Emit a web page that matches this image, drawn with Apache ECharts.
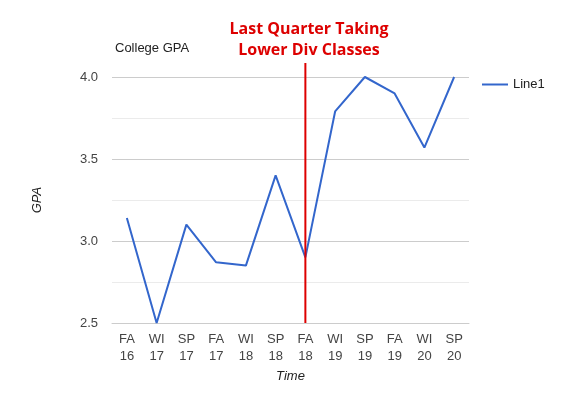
<!DOCTYPE html>
<html>
<head>
<meta charset="utf-8">
<script src="https://cdn.jsdelivr.net/npm/echarts@6/dist/echarts.min.js"></script>
<style>
  html, body { margin: 0; padding: 0; background: #fff; }
  #chart { width: 580px; height: 400px; }
</style>
</head>
<body>
<div id="chart"></div>
<script>
// quarters along the x axis
const quarters = ['FA\n16', 'WI\n17', 'SP\n17', 'FA\n17', 'WI\n18', 'SP\n18',
  'FA\n18', 'WI\n19', 'SP\n19', 'FA\n19', 'WI\n20', 'SP\n20']
// GPA per quarter
const gpa = [3.14, 2.5, 3.10, 2.87, 2.85, 3.40, 2.90, 3.79, 4.0, 3.90, 3.57, 4.0]
// red marker: quarter, from GPA, to GPA (goes a bit above the top of the axis)
const markerLine = [['FA\n18', 2.5, 4.085]]

var myChart = echarts.init(document.getElementById('chart'))
var option = {
  animation: false,
  title: [
    {
      text: 'College GPA',
      left: 110, top: 37,
      textStyle: { fontSize: 13, fontWeight: 'normal', color: '#222', fontFamily: 'Arial, Liberation Sans' }
    },
    {
      text: 'Last Quarter Taking\nLower Div Classes',
      left: 304, top: 14,
      textAlign: 'center',
      textStyle: { fontSize: 16, fontWeight: 'bold', color: '#dd0000', lineHeight: 21, fontFamily: 'Open Sans' }
    }
  ],
  legend: {
    data: ['Line1'],
    orient: 'vertical',
    left: 477, top: 73,
    itemWidth: 26, itemHeight: 2, itemGap: 6,
    icon: 'rect',
    textStyle: { fontSize: 13, color: '#222', fontFamily: 'Arial, Liberation Sans' }
  },
  grid: { left: 112, right: 111, top: 77, bottom: 77 },
  xAxis: {
    type: 'category',
    data: quarters,
    name: 'Time',
    nameLocation: 'middle',
    nameGap: 47,
    nameTextStyle: { fontStyle: 'italic', fontSize: 13, color: '#222', fontFamily: 'Arial, Liberation Sans' },
    axisLine: { show: true, lineStyle: { color: '#ccc' } },
    axisTick: { show: false },
    axisLabel: { fontSize: 13, color: '#444', lineHeight: 17, margin: 8, interval: 0, fontFamily: 'Arial, Liberation Sans' }
  },
  yAxis: {
    type: 'value',
    min: 2.5, max: 4.0, interval: 0.25,
    name: 'GPA',
    nameLocation: 'middle',
    nameGap: 68,
    nameTextStyle: { fontStyle: 'italic', fontSize: 13, color: '#222', fontFamily: 'Arial, Liberation Sans' },
    axisLine: { show: false },
    axisTick: { show: false },
    axisLabel: {
      fontSize: 13, color: '#444', margin: 14, fontFamily: 'Arial, Liberation Sans',
      formatter: function (v) {
        return Math.abs(v * 2 - Math.round(v * 2)) < 1e-6 ? v.toFixed(1) : ''
      }
    },
    splitLine: { lineStyle: { color: ['#ccc', '#ebebeb'] } }
  },
  series: [
    {
      name: 'Line1',
      type: 'line',
      data: gpa,
      symbol: 'none',
      lineStyle: { color: '#3366cc', width: 2 },
      itemStyle: { color: '#3366cc' },
      z: 2
    },
    {
      name: 'marker',
      type: 'custom',
      data: markerLine,
      encode: { x: 0, y: [1, 2] },
      silent: true,
      z: 3,
      renderItem: function (params, api) {
        var x = api.value(0)
        var p0 = api.coord([x, api.value(1)])
        var p1 = api.coord([x, api.value(2)])
        return {
          type: 'line',
          shape: { x1: p0[0], y1: p0[1], x2: p1[0], y2: p1[1] },
          style: { stroke: '#dd0000', lineWidth: 2 }
        }
      }
    }
  ]
}
option && myChart.setOption(option)
</script>
</body>
</html>
